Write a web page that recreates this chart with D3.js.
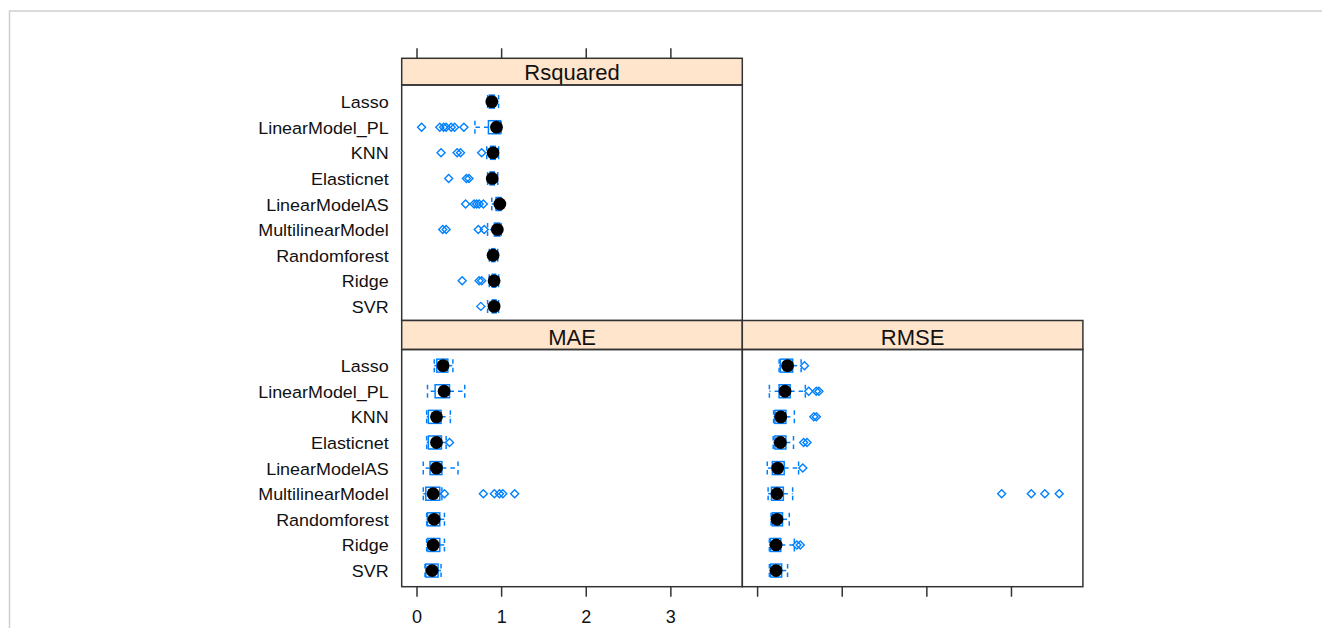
<!DOCTYPE html>
<html>
<head>
<meta charset="utf-8">
<script src="https://cdn.jsdelivr.net/npm/d3@7"></script>
<style>
  html, body { margin: 0; padding: 0; background: #ffffff; }
  svg { display: block; font-family: "Liberation Sans", Arial, sans-serif; }
</style>
</head>
<body>
<svg id="chart" width="1322" height="628"></svg>
<script>
// Resampling results per model: [lower whisker, Q1, median, Q3, upper whisker]
const models = ["Lasso", "LinearModel_PL", "KNN", "Elasticnet", "LinearModelAS",
                "MultilinearModel", "Randomforest", "Ridge", "SVR"];

const xTicks = [0, 1, 2, 3];
const xLimits = [-0.175, 3.85];

const rsquaredStats = [
  [0.84, 0.86, 0.89, 0.92, 0.97],
  [0.69, 0.85, 0.945, 0.99, 1.00],
  [0.83, 0.875, 0.905, 0.93, 0.97],
  [0.84, 0.87, 0.895, 0.92, 0.96],
  [0.89, 0.94, 0.985, 1.00, 1.00],
  [0.84, 0.92, 0.955, 0.985, 1.00],
  [0.86, 0.89, 0.905, 0.925, 0.96],
  [0.86, 0.895, 0.917, 0.935, 0.97],
  [0.84, 0.895, 0.917, 0.94, 0.97]
];
const rsquaredOutliers = [
  [],
  [0.06, 0.275, 0.32, 0.35, 0.41, 0.45, 0.56],
  [0.29, 0.48, 0.52, 0.77],
  [0.38, 0.59, 0.62],
  [0.58, 0.68, 0.71, 0.74, 0.79],
  [0.31, 0.35, 0.73, 0.80],
  [],
  [0.54, 0.74, 0.77],
  [0.76]
];

const maeStats = [
  [0.21, 0.24, 0.314, 0.37, 0.43],
  [0.13, 0.22, 0.326, 0.39, 0.57],
  [0.12, 0.14, 0.236, 0.29, 0.40],
  [0.12, 0.14, 0.236, 0.295, 0.35],
  [0.08, 0.16, 0.236, 0.30, 0.49],
  [0.08, 0.11, 0.196, 0.275, 0.30],
  [0.12, 0.13, 0.208, 0.275, 0.33],
  [0.12, 0.135, 0.197, 0.275, 0.33],
  [0.10, 0.11, 0.184, 0.255, 0.29]
];
const maeOutliers = [
  [], [], [], [0.39], [],
  [0.33, 0.79, 0.92, 0.98, 1.02, 1.16],
  [], [], []
];

const rmseStats = [
  [0.26, 0.275, 0.36, 0.42, 0.52],
  [0.145, 0.26, 0.33, 0.39, 0.57],
  [0.195, 0.21, 0.28, 0.34, 0.44],
  [0.19, 0.21, 0.275, 0.34, 0.43],
  [0.12, 0.18, 0.243, 0.32, 0.49],
  [0.13, 0.17, 0.235, 0.31, 0.42],
  [0.165, 0.18, 0.235, 0.30, 0.38],
  [0.145, 0.157, 0.224, 0.28, 0.44],
  [0.145, 0.16, 0.224, 0.29, 0.36]
];
const rmseOutliers = [
  [0.56],
  [0.61, 0.70, 0.73],
  [0.67, 0.70],
  [0.55, 0.59],
  [0.54],
  [2.89, 3.24, 3.40, 3.57],
  [],
  [0.47, 0.51],
  []
];

// Panel layout (lattice style: strip on top of each panel)
const colW = 340.6;
const colX = [401.7, 742.3];
const panels = [
  { name: "Rsquared", stats: rsquaredStats, outliers: rsquaredOutliers,
    col: 0, stripTop: 58.3, bodyTop: 85, bodyBottom: 320.5, rowRange: [85.5, 322.5], topAxis: true },
  { name: "MAE", stats: maeStats, outliers: maeOutliers,
    col: 0, stripTop: 320.5, bodyTop: 349.5, bodyBottom: 586.7, rowRange: [349.5, 586.7], bottomAxis: "labels" },
  { name: "RMSE", stats: rmseStats, outliers: rmseOutliers,
    col: 1, stripTop: 320.5, bodyTop: 349.5, bodyBottom: 586.7, rowRange: [349.5, 586.7], bottomAxis: "ticks" }
];

const blue = "#0080ff";
const svg = d3.select("#chart");

// Outer light frame
svg.append("line").attr("x1", 9).attr("y1", 11).attr("x2", 1322).attr("y2", 11)
  .attr("stroke", "#cfcfcf").attr("stroke-width", 1.5);
svg.append("line").attr("x1", 9.5).attr("y1", 11).attr("x2", 9.5).attr("y2", 628)
  .attr("stroke", "#cfcfcf").attr("stroke-width", 1.5);

const boxH = 13;
const dash = "4.5,4";

panels.forEach(p => {
  const x0 = colX[p.col];
  const x = d3.scaleLinear().domain(xLimits).range([x0, x0 + colW]);
  const y = d3.scalePoint().domain(models).range(p.rowRange).padding(0.63);
  const g = svg.append("g");

  // strip
  g.append("rect").attr("x", x0).attr("y", p.stripTop)
    .attr("width", colW).attr("height", p.bodyTop - p.stripTop)
    .attr("fill", "#ffe5cc").attr("stroke", "#333").attr("stroke-width", 1.5);
  g.append("text").attr("x", x0 + colW / 2).attr("y", p.bodyTop - 5)
    .attr("text-anchor", "middle").attr("font-size", 22).attr("fill", "#111")
    .text(p.name);

  // model labels on the left column
  if (p.col === 0) {
    g.selectAll("text.model").data(models).join("text")
      .attr("class", "model")
      .attr("transform", d => `translate(${x0 - 13},${y(d) + 6.5}) scale(1.1,1)`)
      .attr("text-anchor", "end").attr("font-size", 16.3).attr("fill", "#111")
      .text(d => d);
  }

  const rows = g.selectAll("g.row").data(models.map((m, i) => ({ m, s: p.stats[i], o: p.outliers[i] })))
    .join("g").attr("class", "row").attr("transform", d => `translate(0,${y(d.m)})`);

  // whiskers from the box edges out to the extremes
  rows.selectAll("line.whisker").data(d => [[d.s[1], d.s[0]], [d.s[3], d.s[4]]]).join("line")
    .attr("x1", d => x(d[0])).attr("x2", d => x(d[1])).attr("y1", 0).attr("y2", 0)
    .attr("stroke", blue).attr("stroke-width", 1.5).attr("stroke-dasharray", dash);
  // whisker end caps
  rows.selectAll("line.cap").data(d => [d.s[0], d.s[4]]).join("line")
    .attr("x1", d => x(d)).attr("x2", d => x(d)).attr("y1", -boxH / 2).attr("y2", boxH / 2)
    .attr("stroke", blue).attr("stroke-width", 1.5).attr("stroke-dasharray", dash);
  // box
  rows.append("rect")
    .attr("x", d => x(d.s[1])).attr("width", d => x(d.s[3]) - x(d.s[1]))
    .attr("y", -boxH / 2).attr("height", boxH)
    .attr("fill", "none").attr("stroke", blue).attr("stroke-width", 1.5);
  // outliers
  rows.selectAll("path.out").data(d => d.o).join("path")
    .attr("d", d => { const cx = x(d), r = 4; return `M${cx},${-r}L${cx + r},0L${cx},${r}L${cx - r},0Z`; })
    .attr("fill", "none").attr("stroke", blue).attr("stroke-width", 1.4);
  // median dot
  rows.append("circle").attr("cx", d => x(d.s[2])).attr("cy", 0).attr("r", 6.4).attr("fill", "#000");

  // panel border
  g.append("rect").attr("x", x0).attr("y", p.bodyTop)
    .attr("width", colW).attr("height", p.bodyBottom - p.bodyTop)
    .attr("fill", "none").attr("stroke", "#333").attr("stroke-width", 1.5);

  // axes
  if (p.topAxis) {
    const ax = svg.append("g").attr("transform", `translate(0,${p.stripTop})`)
      .call(d3.axisTop(x).tickValues(xTicks).tickSize(10).tickFormat(""));
    ax.select(".domain").remove();
    ax.selectAll("line").attr("stroke", "#333").attr("stroke-width", 1.5);
  }
  if (p.bottomAxis) {
    const ax = svg.append("g").attr("transform", `translate(0,${p.bodyBottom})`)
      .call(d3.axisBottom(x).tickValues(xTicks).tickSize(10)
        .tickFormat(p.bottomAxis === "labels" ? d3.format("d") : ""));
    ax.select(".domain").remove();
    ax.selectAll("line").attr("stroke", "#333").attr("stroke-width", 1.5);
    ax.selectAll("text").attr("font-size", 18).attr("fill", "#111")
      .attr("font-family", "'Liberation Sans', Arial, sans-serif")
      .attr("y", 36).attr("dy", "0");
  }
});
</script>
</body>
</html>
